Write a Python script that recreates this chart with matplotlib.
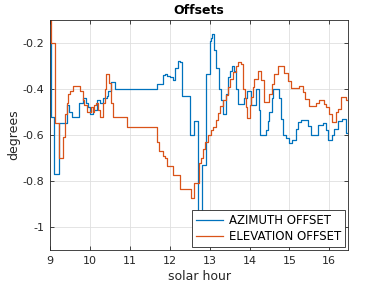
import matplotlib
matplotlib.use('Agg')
import matplotlib.pyplot as plt

# step change points (solar hour, degrees)
azHours = [9.00, 9.03, 9.11, 9.22, 9.42, 9.48, 9.54, 9.73, 9.82, 9.90, 9.96, 10.00, 10.08,
           10.17, 10.25, 10.33, 10.42, 10.46, 10.54, 10.62, 11.68, 11.82, 11.88, 11.93,
           12.00, 12.08, 12.12, 12.21, 12.27, 12.32, 12.52, 12.62, 12.72, 12.80, 12.90,
           13.00, 13.04, 13.07, 13.12, 13.17, 13.23, 13.29, 13.33, 13.41, 13.46, 13.50,
           13.57, 13.62, 13.67, 13.72, 13.87, 13.94, 14.04, 14.17, 14.23, 14.27, 14.42,
           14.46, 14.50, 14.56, 14.60, 14.73, 14.79, 14.83, 14.92, 15.00, 15.07, 15.17,
           15.21, 15.29, 15.46, 15.54, 15.71, 15.83, 15.92, 15.98, 16.07, 16.12, 16.21,
           16.33, 16.43, 16.47]
azOffset = [-0.20, -0.52, -0.77, -0.55, -0.47, -0.50, -0.52, -0.46, -0.44, -0.46, -0.48, -0.51, -0.49,
            -0.45, -0.46, -0.44, -0.43, -0.41, -0.37, -0.40, -0.38, -0.34, -0.335, -0.345,
            -0.35, -0.36, -0.31, -0.28, -0.285, -0.43, -0.60, -0.54, -0.95, -0.73, -0.335,
            -0.19, -0.18, -0.16, -0.23, -0.31, -0.40, -0.45, -0.51, -0.42, -0.35, -0.32,
            -0.30, -0.32, -0.40, -0.465, -0.44, -0.41, -0.47, -0.40, -0.49, -0.60, -0.58,
            -0.54, -0.50, -0.44, -0.40, -0.44, -0.53, -0.60, -0.615, -0.635, -0.62, -0.575,
            -0.545, -0.535, -0.56, -0.60, -0.555, -0.55, -0.58, -0.62, -0.60, -0.575, -0.54,
            -0.53, -0.59, -0.59]

elHours = [9.00, 9.03, 9.125, 9.23, 9.32, 9.38, 9.42, 9.46, 9.50, 9.58, 9.75, 9.82, 9.86,
           9.92, 10.02, 10.08, 10.10, 10.15, 10.21, 10.25, 10.33, 10.375, 10.40, 10.48,
           10.54, 10.58, 10.93, 11.68, 11.73, 11.82, 11.875, 11.92, 12.08, 12.27, 12.54,
           12.60, 12.73, 12.79, 12.83, 12.875, 12.96, 13.04, 13.08, 13.15, 13.21, 13.27,
           13.33, 13.40, 13.46, 13.52, 13.58, 13.65, 13.71, 13.79, 13.83, 13.875, 13.92,
           13.94, 14.00, 14.04, 14.08, 14.125, 14.21, 14.30, 14.37, 14.50, 14.57, 14.625,
           14.71, 14.875, 14.96, 15.04, 15.23, 15.35, 15.40, 15.50, 15.67, 15.73, 15.875,
           15.92, 16.00, 16.08, 16.17, 16.21, 16.29, 16.43, 16.47]
elOffset = [-0.10, -0.20, -0.55, -0.70, -0.61, -0.51, -0.46, -0.42, -0.41, -0.385, -0.41, -0.45, -0.47,
            -0.50, -0.48, -0.50, -0.47, -0.46, -0.49, -0.52, -0.46, -0.40, -0.335, -0.375,
            -0.46, -0.52, -0.565, -0.63, -0.67, -0.69, -0.70, -0.735, -0.775, -0.835, -0.875,
            -0.81, -0.72, -0.70, -0.66, -0.63, -0.60, -0.58, -0.565, -0.535, -0.505, -0.475,
            -0.45, -0.425, -0.39, -0.355, -0.325, -0.30, -0.285, -0.29, -0.40, -0.44, -0.48,
            -0.525, -0.47, -0.435, -0.39, -0.355, -0.32, -0.36, -0.455, -0.42, -0.38, -0.335,
            -0.30, -0.33, -0.365, -0.395, -0.385, -0.415, -0.445, -0.475, -0.46, -0.45, -0.465,
            -0.48, -0.51, -0.545, -0.50, -0.485, -0.435, -0.45, -0.45]

xTicks = [9, 10, 11, 12, 13, 14, 15, 16]
yTicks = [-1, -0.8, -0.6, -0.4, -0.2]
yTickLabels = ['-1', '-0.8', '-0.6', '-0.4', '-0.2']

axisColor = '#262626'

fig = plt.figure(figsize=(3.85, 2.89), dpi=100)
ax = fig.add_axes([0.13, 0.135, 0.774, 0.796])

ax.plot(azHours, azOffset, color='#0072BD', linewidth=0.9, drawstyle='steps-post', label='AZIMUTH OFFSET')
ax.plot(elHours, elOffset, color='#D95319', linewidth=0.9, drawstyle='steps-post', label='ELEVATION OFFSET')

ax.set_xlim(9, 16.47)
ax.set_ylim(-1.1, -0.1)
ax.set_xticks(xTicks)
ax.set_yticks(yTicks)
ax.set_yticklabels(yTickLabels)
ax.grid(True, color='#dfdfdf', linewidth=0.6)
ax.set_axisbelow(True)
ax.tick_params(direction='in', length=3, width=0.6, colors=axisColor, labelsize=8,
               top=True, right=True, pad=4)
for spine in ax.spines.values():
    spine.set_color(axisColor)
    spine.set_linewidth(0.6)

ax.set_title('Offsets', fontsize=9, fontweight='bold', color='black', pad=4)
ax.set_xlabel('solar hour', fontsize=9, color=axisColor, labelpad=3)
ax.set_ylabel('degrees', fontsize=9, color=axisColor, labelpad=2)

leg = ax.legend(loc='lower right', fontsize=8.5, fancybox=False, framealpha=1,
                edgecolor=axisColor, handlelength=2.3, handletextpad=0.5,
                borderaxespad=0.25, labelspacing=0.25, borderpad=0.35)
leg.get_frame().set_linewidth(0.6)

fig.savefig('out.png', dpi=100)
